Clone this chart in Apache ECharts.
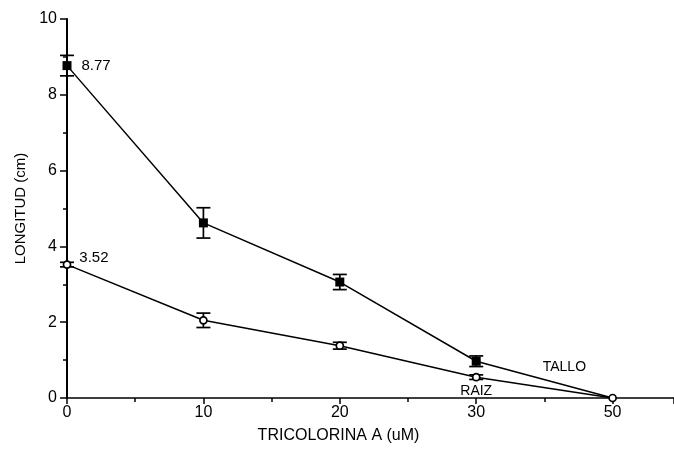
<!DOCTYPE html>
<html>
<head>
<meta charset="utf-8">
<title>Longitud vs Tricolorina A</title>
<script src="https://cdn.jsdelivr.net/npm/echarts@6/dist/echarts.min.js"></script>
<style>
  html, body { margin: 0; padding: 0; background: #fff; }
  #chart { width: 674px; height: 453px; }
</style>
</head>
<body>
<div id="chart"></div>
<script>
// Doses of tricolorin A (uM), plotted at evenly spaced positions
const doses = ['0', '10', '20', '30', '50'];
// Stem length (cm) and its error
const tallo = [8.77, 4.62, 3.06, 0.97, 0];
const talloErr = [0.27, 0.40, 0.20, 0.14, 0];
// Root length (cm) and its error
const raiz = [3.52, 2.05, 1.38, 0.55, 0];
const raizErr = [0.06, 0.19, 0.09, 0.06, 0];

const FONT = "'Liberation Sans', Arial, sans-serif";
const INK = '#000';

const chart = echarts.init(document.getElementById('chart'), null, { renderer: 'canvas' });

function errorBars(values, errs) {
  return {
    type: 'custom',
    silent: true,
    z: 3,
    data: values.map((v, i) => [i, v, errs[i]]),
    renderItem(params, api) {
      const x = api.value(0), y = api.value(1), e = api.value(2);
      if (!e) return null;
      const top = api.coord([x, y + e]);
      const bot = api.coord([x, y - e]);
      const hw = 7;
      const style = { stroke: INK, lineWidth: 1.7 };
      return {
        type: 'group',
        children: [
          { type: 'line', shape: { x1: top[0], y1: top[1], x2: bot[0], y2: bot[1] }, style },
          { type: 'line', shape: { x1: top[0] - hw, y1: top[1], x2: top[0] + hw, y2: top[1] }, style },
          { type: 'line', shape: { x1: bot[0] - hw, y1: bot[1], x2: bot[0] + hw, y2: bot[1] }, style }
        ]
      };
    }
  };
}

const valueLabel = (extra) => Object.assign({
  show: true,
  position: 'right',
  color: INK,
  fontFamily: FONT,
  fontSize: 15,
  formatter: (p) => p.value[1].toFixed(2)
}, extra);

const talloData = tallo.map((v, i) => {
  const item = { value: [i, v] };
  if (i === 0) item.label = valueLabel({ distance: 10 });
  if (i === 3) item.label = {
    show: true, position: 'right', formatter: 'TALLO',
    color: INK, fontFamily: FONT, fontSize: 14, offset: [57, 6]
  };
  return item;
});

const raizData = raiz.map((v, i) => {
  const item = { value: [i, v] };
  if (i === 0) item.label = valueLabel({ distance: 8, offset: [0, -7] });
  if (i === 3) item.label = {
    show: true, position: 'bottom', formatter: 'RAIZ', distance: 3,
    color: INK, fontFamily: FONT, fontSize: 14
  };
  return item;
});

chart.setOption({
  backgroundColor: '#fff',
  animation: false,
  grid: { left: 67, right: 0, top: 19, bottom: 55 },
  xAxis: {
    type: 'value',
    min: 0,
    max: 4.45,
    interval: 1,
    name: 'TRICOLORINA A (uM)',
    nameLocation: 'middle',
    nameGap: 30,
    nameTextStyle: { color: INK, fontFamily: FONT, fontSize: 16, padding: [0, 64, 0, 0] },
    axisLine: { lineStyle: { color: INK, width: 1.7 } },
    axisTick: { show: true, inside: false, length: 6, lineStyle: { color: INK, width: 1.5 } },
    minorTick: { show: true, splitNumber: 2, length: 4, lineStyle: { color: INK, width: 1.5 } },
    axisLabel: {
      color: INK, fontFamily: FONT, fontSize: 16, margin: 7,
      showMaxLabel: false,
      formatter: (v) => (Number.isInteger(v) && v < doses.length ? doses[v] : '')
    },
    splitLine: { show: false },
    minorSplitLine: { show: false }
  },
  yAxis: {
    type: 'value',
    min: 0,
    max: 10,
    interval: 2,
    name: 'LONGITUD (cm)',
    nameLocation: 'middle',
    nameGap: 39,
    nameTextStyle: { color: INK, fontFamily: FONT, fontSize: 15 },
    axisLine: { show: true, lineStyle: { color: INK, width: 2 } },
    axisTick: { show: true, inside: false, length: 7, lineStyle: { color: INK, width: 1.5 } },
    minorTick: { show: true, splitNumber: 2, length: 4, lineStyle: { color: INK, width: 1.5 } },
    axisLabel: { color: INK, fontFamily: FONT, fontSize: 16, margin: 10 },
    splitLine: { show: false },
    minorSplitLine: { show: false }
  },
  series: [
    errorBars(tallo, talloErr),
    errorBars(raiz, raizErr),
    {
      name: 'TALLO',
      type: 'line',
      data: talloData,
      symbol: 'rect',
      // the end point at zero is shown by the root marker alone
      symbolSize: (v) => (v[1] === 0 ? 0 : 9),
      itemStyle: { color: INK },
      lineStyle: { color: INK, width: 1.5 },
      z: 4
    },
    {
      name: 'RAIZ',
      type: 'line',
      data: raizData,
      symbol: 'circle',
      symbolSize: 7,
      itemStyle: { color: '#fff', borderColor: INK, borderWidth: 1.7 },
      lineStyle: { color: INK, width: 1.5 },
      z: 5
    }
  ]
});
</script>
</body>
</html>
